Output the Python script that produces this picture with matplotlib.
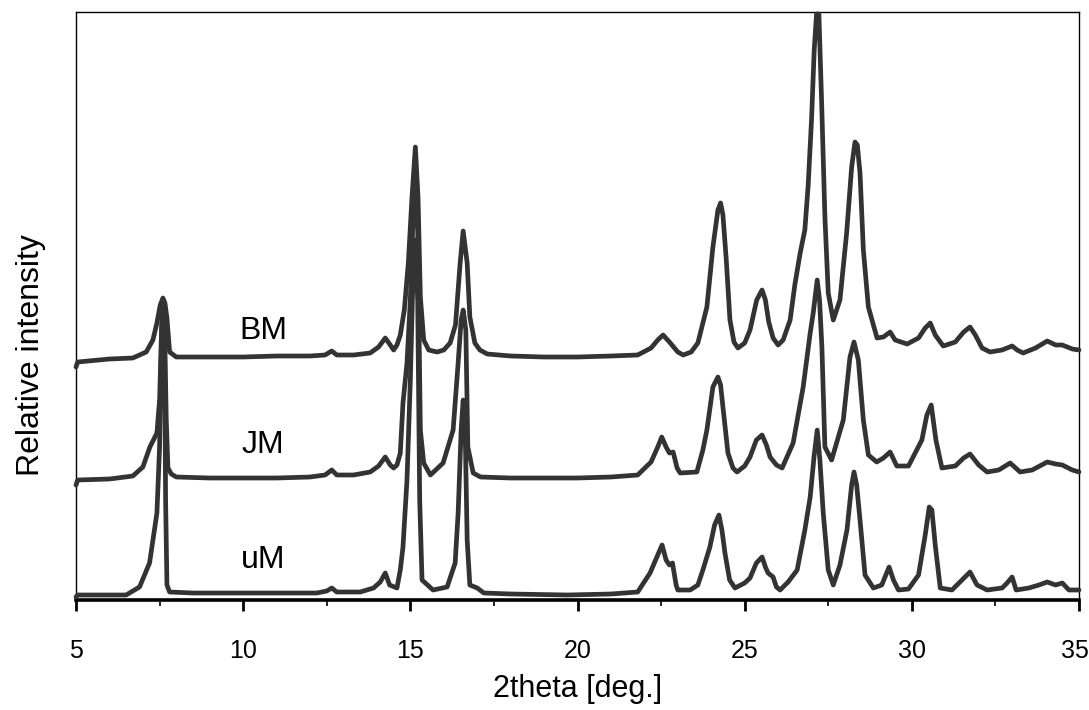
import matplotlib
matplotlib.use("Agg")
import matplotlib.pyplot as plt
from matplotlib.ticker import MultipleLocator
from matplotlib.transforms import ScaledTranslation

plt.rcParams['font.family'] = ['Liberation Sans', 'DejaVu Sans']

# ---- data (2theta in degrees, stacked relative intensity in arbitrary units) ----
bm_x = [5.0, 5.05, 6.0, 6.7, 7.1, 7.3, 7.42, 7.52, 7.6, 7.66, 7.72, 7.8, 8.0, 9.0, 10.0, 11.0, 12.0,
        12.45, 12.65, 12.8, 13.3, 13.8, 14.05, 14.25, 14.4, 14.5, 14.6, 14.7, 14.82, 14.94, 15.05,
        15.15, 15.23, 15.3, 15.4, 15.55, 15.8, 16.0, 16.19, 16.35, 16.49, 16.58, 16.7, 16.78, 16.93,
        17.08, 17.3, 18.0, 19.0, 20.0, 21.0, 21.8, 22.2, 22.4, 22.56, 22.75, 23.0, 23.16, 23.4, 23.6,
        23.87, 24.05, 24.2, 24.28, 24.35, 24.45, 24.56, 24.68, 24.8, 25.0, 25.16, 25.36, 25.52, 25.62,
        25.72, 25.85, 26.0, 26.15, 26.36, 26.5, 26.66, 26.8, 26.9, 27.0, 27.08, 27.15, 27.22, 27.3,
        27.4, 27.5, 27.65, 27.85, 28.05, 28.2, 28.3, 28.37, 28.45, 28.55, 28.7, 28.96, 29.15, 29.35,
        29.5, 29.86, 30.2, 30.4, 30.55, 30.7, 30.94, 31.3, 31.55, 31.74, 31.9, 32.1, 32.34, 32.7,
        33.0, 33.15, 33.33, 33.7, 34.05, 34.3, 34.5, 34.8, 35.0]
bm_y = [233, 238, 241, 242, 248, 260, 277, 295, 302, 297, 282, 248, 243, 243, 243, 244, 244,
        245, 249, 245, 245, 247, 253, 262, 255, 250, 255, 265, 290, 337, 403,
        453, 403, 303, 260, 250, 248, 250, 257, 275, 337, 369, 337, 283, 257,
        250, 246, 244, 243, 243, 244, 245, 252, 260, 265, 258, 248, 245, 248, 257,
        293, 353, 390, 397, 385, 340, 280, 258, 252, 257, 270, 300, 310, 300,
        278, 262, 255, 260, 280, 315, 347, 370, 415, 480, 550, 586, 586, 500,
        383, 307, 280, 300, 367, 433, 458, 455, 427, 350, 293, 262, 263, 268,
        260, 256, 262, 272, 277, 265, 254, 258, 268, 273, 265, 252, 248, 250,
        254, 250, 247, 252, 259, 255, 255, 251, 250]

jm_x = [5.0, 5.05, 6.0, 6.7, 7.0, 7.21, 7.42, 7.5, 7.56, 7.6, 7.65, 7.7, 7.75, 7.85, 8.0, 9.0, 10.0,
        11.0, 12.0, 12.45, 12.65, 12.8, 13.3, 13.8, 14.05, 14.25, 14.4, 14.5, 14.6, 14.7, 14.78,
        14.9, 15.0, 15.1, 15.15, 15.22, 15.3, 15.4, 15.6, 15.98, 16.28, 16.43, 16.52, 16.58, 16.66,
        16.72, 16.88, 17.1, 18.0, 19.0, 20.0, 21.0, 21.8, 22.2, 22.4, 22.52, 22.65, 22.75, 22.86,
        22.98, 23.07, 23.57, 23.75, 23.87, 24.05, 24.2, 24.28, 24.35, 24.5, 24.65, 24.77, 25.0,
        25.16, 25.35, 25.52, 25.65, 25.76, 25.95, 26.12, 26.45, 26.75, 26.96, 27.05, 27.17, 27.24,
        27.31, 27.4, 27.6, 27.95, 28.15, 28.27, 28.4, 28.55, 28.7, 28.95, 29.15, 29.35, 29.55, 29.9,
        30.3, 30.45, 30.58, 30.72, 30.9, 31.3, 31.55, 31.74, 32.0, 32.25, 32.6, 32.94, 33.24, 33.6,
        34.05, 34.3, 34.5, 34.8, 35.0]
jm_y = [115, 120, 121, 124, 133, 153, 167, 200, 270, 295, 270, 180, 132, 126, 123, 122, 122,
        122, 123, 125, 130, 125, 125, 128, 134, 143, 135, 132, 135, 147, 197,
        237, 300, 400, 410, 370, 170, 137, 125, 137, 170, 237, 280, 290, 270,
        153, 127, 123, 122, 122, 122, 123, 125, 138, 153, 163, 153, 147, 148,
        132, 127, 128, 150, 170, 213, 223, 215, 193, 147, 132, 128, 134,
        143, 160, 165, 155, 143, 135, 132, 157, 213, 267, 287, 320, 300,
        253, 153, 140, 180, 243, 258, 240, 180, 145, 138, 142, 148, 134, 134,
        160, 185, 195, 160, 132, 134, 142, 146, 135, 128, 130, 137, 128, 130,
        138, 136, 135, 130, 128]

um_x = [5.0, 5.05, 6.0, 6.5, 6.9, 7.2, 7.42, 7.5, 7.56, 7.6, 7.65, 7.68, 7.72, 7.8, 8.5, 9.2, 10.0,
        11.0, 12.2, 12.5, 12.65, 12.8, 13.5, 13.9, 14.1, 14.25, 14.38, 14.6, 14.7, 14.78, 14.9,
        15.0, 15.1, 15.15, 15.22, 15.28, 15.35, 15.68, 16.1, 16.34, 16.43, 16.52, 16.58, 16.64, 16.7,
        16.78, 17.0, 17.2, 18.0, 19.7, 21.0, 21.8, 22.17, 22.4, 22.53, 22.65, 22.75, 22.84, 22.95,
        23.0, 23.37, 23.6, 23.75, 23.96, 24.1, 24.23, 24.32, 24.41, 24.55, 24.71, 25.0, 25.16, 25.35,
        25.52, 25.62, 25.7, 25.85, 25.95, 26.06, 26.3, 26.57, 26.8, 26.96, 27.08, 27.17, 27.25,
        27.35, 27.5, 27.65, 27.85, 28.06, 28.2, 28.27, 28.35, 28.45, 28.6, 28.85, 29.1, 29.32,
        29.45, 29.6, 29.9, 30.2, 30.4, 30.52, 30.6, 30.7, 30.85, 31.2, 31.5, 31.74, 31.95, 32.25,
        32.7, 32.85, 33.0, 33.12, 33.5, 33.8, 34.05, 34.3, 34.5, 34.7, 35.0]
um_y = [3, 5, 5, 5, 13, 37, 87, 153, 270, 300, 260, 100, 15, 8, 7, 7, 7,
        7, 7, 9, 12, 8, 8, 12, 18, 27, 15, 12, 30, 53, 120,
        220, 350, 360, 300, 100, 20, 10, 13, 37, 87, 170, 200, 170, 60,
        15, 12, 7, 6, 5, 6, 8, 27, 45, 55, 40, 35, 37, 15,
        10, 10, 15, 30, 53, 75, 85, 70, 47, 20, 12, 17, 22, 37,
        43, 33, 27, 23, 13, 10, 18, 30, 70, 103, 145, 170, 140,
        87, 30, 15, 35, 70, 115, 128, 115, 80, 25, 12, 15, 33,
        20, 10, 11, 25, 65, 93, 90, 55, 12, 10, 20, 28, 15, 10,
        12, 17, 23, 10, 12, 15, 18, 15, 17, 10, 10]

series = [("BM", bm_x, bm_y), ("JM", jm_x, jm_y), ("uM", um_x, um_y)]
label_pos = {"BM": (10.6, 269), "JM": (10.6, 155), "uM": (10.6, 40)}

x_ticks = [5, 10, 15, 20, 25, 30, 35]

# ---- figure ----
fig = plt.figure(figsize=(10.89, 7.10), dpi=100)
ax = fig.add_axes([76 / 1089, 110 / 710, 1003 / 1089, 588 / 710])

line_color = "#333333"
for name, xs, ys in series:
    ax.plot(xs, ys, color=line_color, lw=3.4, solid_joinstyle="round",
            solid_capstyle="round", clip_on=False, zorder=3)
    lx, ly = label_pos[name]
    ax.text(lx, ly, name, fontsize=23, ha="center", va="center", color="black")

ax.set_xlim(5, 35)
ax.set_ylim(0, 588)

ax.set_xticks(x_ticks)
ax.set_xticklabels([str(t) for t in x_ticks])
ax.xaxis.set_minor_locator(MultipleLocator(2.5))
ax.tick_params(axis="x", which="major", direction="out", length=8, width=2,
               labelsize=18, pad=20)
ax.tick_params(axis="x", which="minor", direction="out", length=4, width=1.2)
ax.set_yticks([])

# keep the last tick label inside the canvas
last = ax.get_xticklabels()[-1]
last.set_transform(last.get_transform() + ScaledTranslation(-4 / 100, 0, fig.dpi_scale_trans))

for s in ["left", "top", "right"]:
    ax.spines[s].set_linewidth(1.0)
ax.spines["bottom"].set_linewidth(2.6)

ax.set_xlabel("2theta [deg.]", fontsize=22, labelpad=8)
ax.set_ylabel("Relative intensity", fontsize=23)
ax.yaxis.set_label_coords(-0.03, 0.417)

fig.savefig("out.png", dpi=100)
